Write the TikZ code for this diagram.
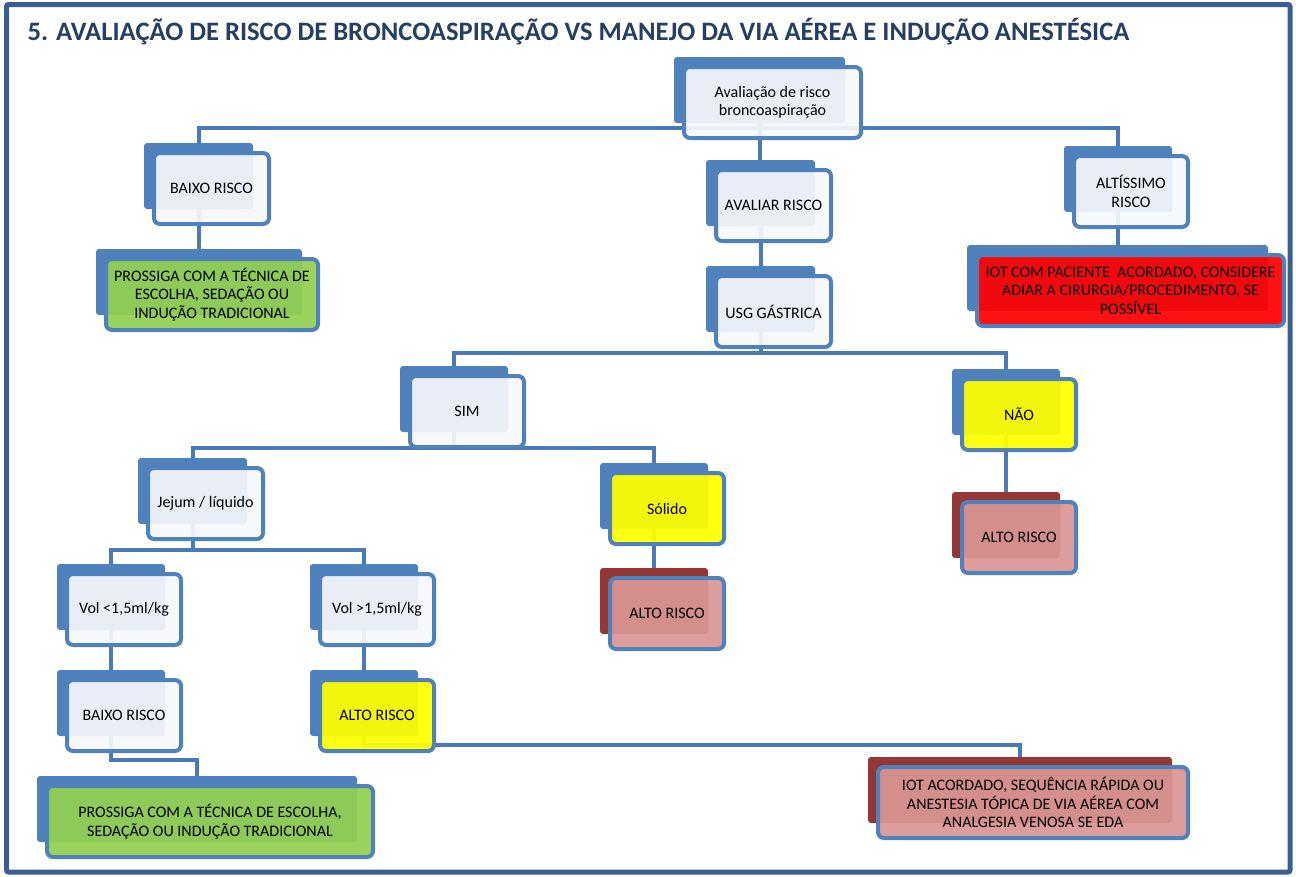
\documentclass[tikz,border=0pt]{standalone}
\usepackage{fontspec}
\setmainfont{Carlito}
\usetikzlibrary{positioning}
\definecolor{smblue}{RGB}{79,129,189}
\definecolor{linkblue}{RGB}{74,122,181}
\definecolor{framebl}{RGB}{59,95,143}
\definecolor{titlebl}{RGB}{36,62,100}
\definecolor{lightcard}{RGB}{245,247,251}
\definecolor{okgreen}{RGB}{146,208,80}
\definecolor{warnyel}{RGB}{255,255,0}
\definecolor{dangred}{RGB}{255,0,0}
\definecolor{riskpink}{RGB}{217,150,148}
\definecolor{darkred}{RGB}{149,55,53}
\begin{document}
\begin{tikzpicture}[x=1pt,y=-1pt,
    plate/.style={fill=smblue,rounded corners=3pt,minimum width=#1,minimum height=66pt,inner sep=0pt,outer sep=0pt},
    redplate/.style={plate=#1,fill=darkred},
    card/.style={draw=smblue,line width=4pt,fill=lightcard,fill opacity=0.93,text opacity=1,rounded corners=6pt,
        minimum width=#1+6,minimum height=71pt,inner sep=0pt,align=center,font=\fontsize{16}{18.5}\selectfont},
    link/.style={draw=linkblue,line width=4pt}]
    \useasboundingbox (0,0) rectangle (1296,876);
    \draw[framebl,line width=5pt,rounded corners=2pt] (6.5,4.5) rectangle (1290,872);
    \node[anchor=base west,text=titlebl,font=\bfseries\fontsize{26.6}{30}\selectfont] (title) at (24,40)
        {5. AVALIAÇÃO DE RISCO DE BRONCOASPIRAÇÃO VS MANEJO DA VIA AÉREA E INDUÇÃO ANESTÉSICA};
    % back plates
    \node[plate=171] (aval) at (759.5,90) {};
    \node[plate=109] (baixoA) at (198.5,176) {};
    \node[plate=108] (altiss) at (1118,179) {};
    \node[plate=109] (avaliar) at (760.5,193) {};
    \node[plate=206] (prossA) at (199,282) {};
    \node[plate=301] (iotA) at (1117.5,278) {};
    \node[plate=109] (usg) at (760.5,299) {};
    \node[plate=108] (sim) at (454,399) {};
    \node[plate=108] (nao) at (1006,402) {};
    \node[plate=109] (jejum) at (192.5,491) {};
    \node[plate=108] (solido) at (654,496) {};
    \node[redplate=108] (altoN) at (1006,525) {};
    \node[plate=108] (volA) at (111,597) {};
    \node[plate=108] (volB) at (364,597) {};
    \node[redplate=108] (altoS) at (654,601) {};
    \node[plate=108] (baixoB) at (111,703) {};
    \node[plate=108] (altoV) at (364,703) {};
    \node[redplate=304] (iotB) at (1020,790) {};
    \node[plate=320] (prossB) at (197,809) {};
    % connectors
    \draw[link] (aval.south) -- ++(0,5) -| (baixoA.north);
    \draw[link] (aval.south) -- ++(0,5) -| (altiss.north);
    \draw[link] (aval.south) -- (aval.south |- avaliar.north);
    \draw[link] (baixoA.south) -- (baixoA.south |- prossA.north);
    \draw[link] (altiss.south) -- (altiss.south |- iotA.north);
    \draw[link] (avaliar.south) -- (usg.north);
    \draw[link] (usg.south) -- ++(0,21) -| (sim.north);
    \draw[link] (usg.south) -- ++(0,21) -| (nao.north);
    \draw[link] (nao.south) -- (altoN.north);
    \draw[link] (sim.south) -- ++(0,16) -| (jejum.north);
    \draw[link] (sim.south) -- ++(0,16) -| (solido.north);
    \draw[link] (solido.south) -- (altoS.north);
    \draw[link] (jejum.south) -- ++(0,26) -| (volA.north);
    \draw[link] (jejum.south) -- ++(0,26) -| (volB.north);
    \draw[link] (volA.south) -- (baixoB.north);
    \draw[link] (volB.south) -- (altoV.north);
    \draw[link] (baixoB.south) -- ++(0,24) -| (prossB.north);
    \draw[link] (altoV.south) -- ++(0,9) -| (iotB.north);
    % front cards
    \node[card=171] (avalT) at ([shift={(13,12.5)}]aval.center) {Avaliação de risco\\broncoaspiração};
    \node[card=109] (baixoAT) at ([shift={(13,12.5)}]baixoA.center) {BAIXO RISCO};
    \node[card=108] (altissT) at ([shift={(13,12.5)}]altiss.center) {ALTÍSSIMO\\RISCO};
    \node[card=109] (avaliarT) at ([shift={(13,12.5)}]avaliar.center) {AVALIAR RISCO};
    \node[card=206,fill=okgreen] (prossAT) at ([shift={(13,12.5)}]prossA.center)
        {PROSSIGA COM A TÉCNICA DE\\ESCOLHA, SEDAÇÃO OU\\INDUÇÃO TRADICIONAL};
    \node[card=301,fill=dangred] (iotAT) at ([shift={(13,12.5)}]iotA.center)
        {IOT COM PACIENTE\ \ ACORDADO, CONSIDERE\\ADIAR A CIRURGIA/PROCEDIMENTO, SE\\POSSÍVEL};
    \node[card=109] (usgT) at ([shift={(13,12.5)}]usg.center) {USG GÁSTRICA};
    \node[card=108] (simT) at ([shift={(13,12.5)}]sim.center) {SIM};
    \node[card=108,fill=warnyel] (naoT) at ([shift={(13,12.5)}]nao.center) {NÃO};
    \node[card=109] (jejumT) at ([shift={(13,12.5)}]jejum.center) {Jejum / líquido};
    \node[card=108,fill=warnyel] (solidoT) at ([shift={(13,12.5)}]solido.center) {Sólido};
    \node[card=108,fill=riskpink] (altoNT) at ([shift={(13,12.5)}]altoN.center) {ALTO RISCO};
    \node[card=108] (volAT) at ([shift={(13,12.5)}]volA.center) {Vol <1,5ml/kg};
    \node[card=108] (volBT) at ([shift={(13,12.5)}]volB.center) {Vol >1,5ml/kg};
    \node[card=108,fill=riskpink] (altoST) at ([shift={(13,12.5)}]altoS.center) {ALTO RISCO};
    \node[card=108] (baixoBT) at ([shift={(13,12.5)}]baixoB.center) {BAIXO RISCO};
    \node[card=108,fill=warnyel] (altoVT) at ([shift={(13,12.5)}]altoV.center) {ALTO RISCO};
    \node[card=304,fill=riskpink] (iotBT) at ([shift={(13,12.5)}]iotB.center)
        {IOT ACORDADO, SEQUÊNCIA RÁPIDA OU\\ANESTESIA TÓPICA DE VIA AÉREA COM\\ANALGESIA VENOSA SE EDA};
    \node[card=320,fill=okgreen] (prossBT) at ([shift={(13,12.5)}]prossB.center)
        {PROSSIGA COM A TÉCNICA DE ESCOLHA,\\SEDAÇÃO OU INDUÇÃO TRADICIONAL};
\end{tikzpicture}
\end{document}
